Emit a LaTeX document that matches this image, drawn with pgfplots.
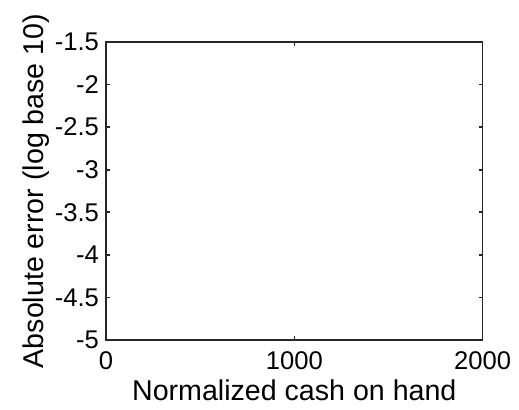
\documentclass[border=0pt]{standalone}
\usepackage{pgfplots}
\pgfplotsset{compat=1.18}
\usepackage{fontspec}
\setmainfont{Liberation Sans}
\definecolor{mgray}{HTML}{262626}
\begin{document}
\begin{tikzpicture}
\useasboundingbox (-53pt,-34.5pt) rectangle (206.5pt,170pt);
\begin{axis}[
  at={(0,0)}, anchor=south west,
  scale only axis,
  width=188.3pt, height=149pt,
  xmin=0, xmax=2000, ymin=-5, ymax=-1.5,
  xtick={0,1000,2000},
  ytick={-5,-4.5,-4,-3.5,-3,-2.5,-2,-1.5},
  /pgf/number format/assume math mode=true,
  /pgf/number format/1000 sep={},
  scaled ticks=false,
  tick align=inside,
  major tick length=2pt,
  axis line style={mgray, line width=0.8pt},
  every tick/.style={mgray, line width=0.8pt},
  ticklabel style={font=\fontsize{12.8}{14}\selectfont, text=black},
  xticklabel style={yshift=-2.5pt},
  label style={font=\fontsize{14.3}{16}\selectfont, text=black},
  xlabel={Normalized cash on hand},
  ylabel={Absolute error (log base 10)},
  xlabel style={yshift=2pt},
  ylabel style={yshift=-4pt},
]
\end{axis}
\end{tikzpicture}
\end{document}
